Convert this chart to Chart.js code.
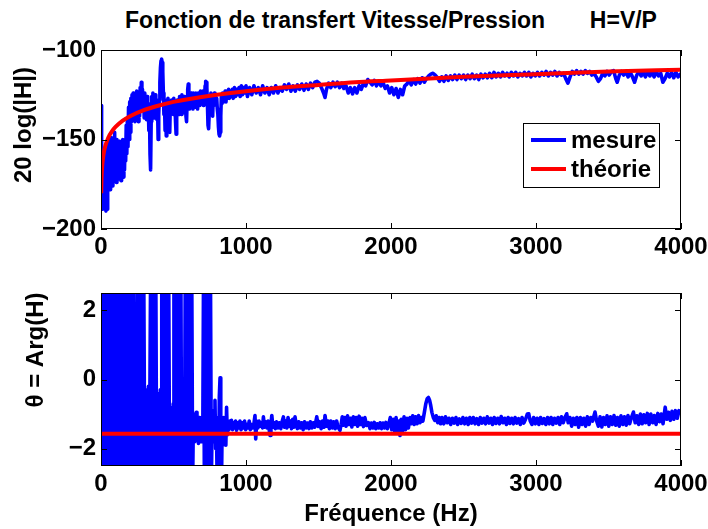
<!DOCTYPE html>
<html>
<head>
<meta charset="utf-8">
<script src="https://cdn.jsdelivr.net/npm/chart.js@4.4.1/dist/chart.umd.min.js"></script>
<style>
  body { margin: 0; background: #fff; }
  #wrap { position: relative; width: 708px; height: 529px; background: #fff; overflow: hidden; }
  #title { position: absolute; left: 0; width: 782px; top: 9px; text-align: center; white-space: pre;
           font: bold 23px "Liberation Sans", Arial, sans-serif; line-height: 23px; color: #000; }
  canvas { position: absolute; left: 0; }
</style>
</head>
<body>
<div id="wrap">
  <div id="title">Fonction de transfert Vitesse/Pression       H=V/P</div>
  <canvas id="c1" width="708" height="260" style="top:0"></canvas>
  <canvas id="c2" width="708" height="269" style="top:260px"></canvas>
</div>
<script>
// Fonction de transfert H=V/P : module (dB) et phase (rad) — mesure vs théorie

const xTicks = [0, 1000, 2000, 3000, 4000];
const magTicks = [-200, -150, -100];
const phTicks = [-2, 0, 2];

// module mesuré [Hz, dB]
const magMeasure = [
  [0,-176],[2,-131],[4,-170],[6,-186],[9,-158],[12,-189],[15,-162],[18,-188],[22,-156],[26,-184],
  [30,-160],[34,-190],[38,-158],[42,-189],[46,-155],[50,-176],[54,-150],[58,-174],[62,-152],[66,-178],
  [70,-149],[74,-172],[78,-154],[82,-176],[86,-150],[90,-170],[94,-146],[98,-168],[102,-152],[106,-174],
  [110,-150],[114,-170],[118,-155],[122,-172],[126,-151],[130,-168],[134,-156],[138,-173],[142,-153],[146,-169],
  [150,-150],[154,-171],[158,-155],[162,-167],[166,-150],[170,-162],[174,-142],[178,-158],[182,-138],[186,-154],
  [190,-132],[194,-150],[198,-129],[202,-146],[206,-127],[210,-140],[214,-125],[218,-138],[222,-124],[226,-136],
  [230,-128],[234,-140],[238,-126],[242,-135],[246,-123],[250,-134],[254,-127],[258,-140],[262,-124],[266,-137],
  [270,-121],[274,-133],[278,-118],[282,-128],[286,-122],[290,-134],[294,-125],[298,-138],[302,-124],[306,-133],
  [310,-127],[314,-139],[318,-126],[322,-136],[326,-130],[330,-145],[334,-132],[338,-158],[342,-167],[346,-140],
  [350,-126],[354,-137],[358,-124],[362,-135],[366,-127],[370,-138],[374,-125],[378,-134],[382,-128],[386,-139],
  [390,-131],[394,-150],[398,-136],[402,-128],[406,-118],[410,-110],[414,-106],[418,-105],[422,-107],[426,-112],
  [430,-124],[434,-136],[438,-130],[442,-145],[446,-134],[450,-148],[454,-128],[458,-135],[462,-127],[466,-133],
  [470,-129],[474,-146],[478,-130],[482,-135],[486,-128],[490,-134],[494,-129],[498,-136],[502,-127],[506,-133],
  [510,-130],[514,-140],[518,-147],[522,-131],[526,-128],[530,-135],[534,-128],[538,-136],[542,-126],[546,-133],
  [550,-128],[554,-136],[558,-125],[562,-132],[566,-127],[570,-135],[574,-126],[578,-134],[582,-128],[586,-137],
  [590,-140],[594,-128],[598,-122],[602,-119],[606,-127],[610,-133],[614,-125],[618,-131],[622,-124],[626,-132],
  [630,-126],[634,-133],[638,-124],[642,-131],[646,-125],[650,-132],[654,-124],[658,-130],[662,-126],[666,-133],
  [670,-124],[674,-130],[678,-125],[682,-131],[686,-123],[690,-129],[694,-125],[698,-130],[702,-123],[706,-131],
  [710,-124],[714,-128],[718,-120],[722,-117.5],[726,-118],[730,-121],[734,-130],[738,-142],[742,-144],[746,-136],
  [750,-127],[754,-131],[758,-124],[762,-132],[766,-125],[770,-137],[774,-126],[778,-131],[782,-124],[786,-130],
  [790,-125],[794,-129],[798,-127],[802,-133],[806,-136],[810,-143],[814,-147],[818,-148],[822,-146],[826,-137],
  [830,-126],[834,-130],[838,-124],[842,-129],[846,-124],[850,-128],[856,-123],[862,-129],[868,-124],[874,-127],
  [880,-122],[886,-127],[892,-123],[898,-126],[905,-122],[912,-127],[920,-121],[928,-126],[936,-122],[944,-125],
  [952,-121],[960,-126],[968,-120],[976,-125],[984,-121],[992,-124],[1000,-120],[1010,-126],[1025,-121],[1040,-125],
  [1055,-120],[1070,-124],[1085,-121],[1100,-125],[1115,-120],[1130,-124],[1145,-121],[1160,-125],[1175,-121],[1190,-124],
  [1205,-120],[1220,-124],[1235,-121],[1250,-123],[1265,-119.5],[1280,-122],[1295,-119],[1310,-123],[1325,-120],[1340,-123],
  [1355,-119.5],[1370,-122],[1385,-119],[1400,-122.5],[1415,-119],[1430,-122],[1445,-118.5],[1460,-121],[1475,-118],[1490,-117.5],
  [1505,-118.5],[1520,-121],[1535,-124],[1545,-126.5],[1555,-122],[1570,-118.5],[1585,-121],[1600,-118],[1615,-120.5],[1630,-118],
  [1645,-121],[1660,-118.5],[1675,-121.5],[1690,-120],[1705,-124],[1720,-121],[1735,-124.5],[1750,-121],[1765,-124],[1780,-120],
  [1795,-122],[1810,-118.5],[1825,-120],[1840,-116.5],[1855,-118],[1870,-119.5],[1885,-117],[1900,-120],[1915,-117.5],[1930,-120],
  [1945,-118],[1960,-121.5],[1975,-120],[1990,-124],[2005,-121],[2020,-125],[2035,-121.5],[2050,-126.5],[2065,-122],[2080,-125],
  [2095,-120],[2110,-119],[2125,-117],[2140,-119.5],[2155,-116.5],[2170,-119],[2185,-116],[2200,-118.5],[2215,-115.5],[2230,-118],
  [2245,-116],[2260,-114.5],[2275,-113.5],[2290,-113],[2305,-114],[2320,-115.5],[2335,-117.5],[2350,-115],[2365,-117.5],[2380,-114.5],
  [2395,-117],[2410,-114.5],[2425,-116.5],[2440,-114],[2455,-116.5],[2470,-114],[2485,-116],[2500,-114],[2515,-116.5],[2530,-114],
  [2545,-116],[2560,-113.5],[2575,-116],[2590,-114],[2605,-116.5],[2620,-113.5],[2635,-115.5],[2650,-113.5],[2665,-115.5],[2680,-113],
  [2695,-115.5],[2710,-112.5],[2725,-115],[2740,-113],[2755,-115],[2770,-112.5],[2785,-114.5],[2800,-113],[2815,-115],[2830,-112.5],
  [2845,-114.5],[2860,-112.5],[2875,-115],[2890,-113],[2905,-114.5],[2920,-112.5],[2935,-114.5],[2950,-112.5],[2965,-115],[2980,-113],
  [2995,-114.5],[3010,-112.5],[3025,-114.5],[3040,-112.5],[3055,-114],[3070,-112],[3085,-114.5],[3100,-112.5],[3115,-114],[3130,-112],
  [3145,-114.5],[3160,-112.5],[3175,-114],[3190,-113],[3205,-116],[3220,-118.5],[3235,-115],[3250,-112],[3265,-113.5],[3280,-111.5],
  [3295,-113.5],[3310,-112],[3325,-113.5],[3340,-111.5],[3355,-113],[3370,-112],[3385,-114],[3400,-113],[3415,-115],[3430,-117.5],
  [3445,-116],[3460,-113],[3475,-114.5],[3490,-112],[3505,-114],[3520,-112],[3535,-111.5],[3550,-116],[3560,-118],[3575,-114],
  [3590,-112],[3605,-114],[3620,-112],[3635,-115],[3650,-112.5],[3665,-115],[3680,-118],[3695,-114],[3710,-112],[3725,-114.5],
  [3740,-112.5],[3755,-115],[3770,-112],[3785,-114.5],[3800,-112.5],[3815,-115],[3830,-112],[3845,-114.5],[3860,-113],[3875,-118],
  [3890,-116],[3905,-113],[3920,-115],[3935,-112.5],[3950,-115.5],[3965,-112.5],[3980,-115],[4000,-113]
];

// module théorique [Hz, dB]
const magTheory = [
  [1.5,-180],[3,-174],[5,-169],[8,-165],[12,-161.5],[20,-157],[30,-153.5],[50,-149],[75,-145.5],[100,-143],
  [150,-139.5],[200,-137],[300,-133.5],[400,-131],[500,-129],[600,-127.5],[800,-125],[1000,-123],[1250,-121],[1500,-119.5],
  [1750,-118],[2000,-117],[2500,-115],[3000,-113.5],[3500,-112],[4000,-111]
];

// phase mesurée [Hz, rad]
const phMeasure = [
  [0,3],[7,-3],[14,3],[21,-3],[28,3],[35,-3],[42,3],[49,-3],[56,3],[63,-3],[70,3],[77,-3],[84,3],[91,-3],[98,3],
  [105,-3],[112,3],[119,-3],[126,3],[133,-3],[140,3],[147,-3],[154,3],[161,-3],[168,3],[175,-3],[182,3],[189,-3],[196,3],
  [203,-3],[210,3],[217,-3],[224,3],[231,-3],[236,-0.4],[241,-3],[246,-0.3],[251,3],[256,-3],[261,-0.5],[266,-3],[271,3],
  [276,-3],[281,3],[288,-3],[295,3],[302,-3],[307,-0.3],[312,-3],[317,-0.4],[322,-3],[327,-0.2],[332,-3],[337,-0.5],[342,3],
  [348,-3],[354,3],[360,-3],[366,3],[372,-3],[378,3],[384,-3],[389,-0.4],[394,-3],[399,-0.6],[404,-3],[409,-0.3],[414,-3],
  [419,3],[425,-3],[431,3],[437,-3],[443,3],[449,-3],[455,3],[461,-3],[467,3],[473,-3],[478,-0.8],[483,-3],[488,-0.9],
  [493,-3],[498,-0.7],[503,3],[509,-3],[515,3],[521,-3],[527,3],[533,-3],[539,3],[545,-3],[551,3],[556,-3],[561,-0.8],
  [566,-3],[571,-1.0],[576,-2.6],[581,3],[587,-3],[593,3],[599,-3],[604,-0.8],[609,-3],[614,3],[620,-3],[626,3],[632,-3],
  [637,-1.2],[642,-1.8],[647,-1.0],[652,-1.7],[657,-0.95],[662,-1.6],[667,-1.2],[672,-1.85],[677,-1.1],[682,-1.7],[687,-1.3],
  [692,-1.8],[697,-1.1],[702,-1.6],[707,3],[713,-3],[719,3],[725,-3],[731,3],[737,-3],[743,3],[749,-3],[755,3],[761,-3],
  [766,-1.4],[771,-0.9],[776,-1.8],[781,-1.0],[786,-0.6],[791,-2.0],[796,-1.2],[801,-3],[806,-1.1],[811,-3],[816,-0.5],
  [821,0.05],[826,-1.5],[831,-3],[836,-1.2],[841,-1.9],[846,-1.1],[851,-1.7],[856,-1.3],[861,-1.9],[866,-0.8],[871,-1.6],
  [876,-1.3],[882,-1.45],[888,-1.2],[894,-1.4],[900,-1.18],[907,-1.45],[914,-1.25],[921,-1.4],[928,-1.2],[935,-1.47],
  [942,-1.25],[950,-1.4],[958,-1.2],[966,-1.45],[974,-1.25],[982,-1.4],[990,-1.2],[998,-1.45],[1006,-1.3],[1014,-1.4],
  [1022,-1.2],[1030,-1.45],[1038,-1.3],[1046,-1.4],[1054,-1.3],[1062,-1.04],[1067,-1.72],[1074,-1.2],[1082,-1.4],[1090,-1.2],
  [1098,-1.35],[1106,-1.25],[1114,-1.4],[1120,-1.08],[1128,-1.38],[1136,-1.22],[1144,-1.4],[1152,-1.2],[1160,-1.45],[1166,-1.62],
  [1172,-1.3],[1178,-1.04],[1186,-1.38],[1194,-1.25],[1202,-1.42],[1210,-1.22],[1220,-1.4],[1230,-1.25],[1240,-1.42],[1250,-1.2],
  [1258,-1.08],[1266,-1.38],[1274,-1.2],[1282,-1.4],[1290,-1.1],[1298,-1.35],[1306,-1.2],[1314,-1.42],[1322,-1.15],[1330,-1.38],
  [1338,-1.08],[1346,-1.3],[1354,-1.42],[1364,-1.22],[1374,-1.4],[1384,-1.25],[1394,-1.45],[1404,-1.22],[1414,-1.4],[1424,-1.26],
  [1434,-1.42],[1444,-1.22],[1454,-1.4],[1464,-1.25],[1474,-1.38],[1488,-1.08],[1498,-1.36],[1508,-1.22],[1518,-1.42],[1528,-1.2],
  [1538,-1.38],[1545,-1.04],[1555,-1.35],[1565,-1.2],[1575,-1.42],[1585,-1.2],[1595,-1.4],[1605,-1.22],[1615,-1.42],[1625,-1.2],
  [1635,-1.38],[1648,-1.47],[1656,-1.3],[1664,-1.08],[1672,-1.32],[1680,-1.1],[1690,-1.35],[1700,-1.05],[1710,-1.3],[1720,-1.12],
  [1730,-1.37],[1740,-1.08],[1750,-1.3],[1760,-1.1],[1770,-1.35],[1780,-1.06],[1790,-1.3],[1800,-1.12],[1810,-1.36],[1820,-1.1],
  [1832,-1.33],[1845,-1.25],[1855,-1.42],[1865,-1.26],[1875,-1.4],[1885,-1.24],[1895,-1.42],[1905,-1.28],[1915,-1.4],[1925,-1.25],
  [1935,-1.42],[1945,-1.26],[1955,-1.4],[1965,-1.24],[1975,-1.42],[1985,-1.28],[1995,-1.1],[2005,-1.45],[2015,-1.15],[2025,-1.5],
  [2035,-1.1],[2045,-1.55],[2055,-1.2],[2062,-1.62],[2070,-1.15],[2080,-1.5],[2090,-1.08],[2100,-1.45],[2110,-1.12],[2120,-1.4],
  [2131,-1.1],[2140,-1.28],[2150,-1.05],[2160,-1.3],[2170,-1.08],[2180,-1.28],[2190,-1.04],[2200,-1.25],[2210,-1.1],[2220,-1.2],
  [2230,-0.95],[2240,-0.7],[2250,-0.55],[2258,-0.52],[2266,-0.6],[2274,-0.75],[2282,-0.95],[2292,-1.1],[2302,-1.18],[2312,-1.05],
  [2322,-1.25],[2332,-1.1],[2342,-1.28],[2352,-1.1],[2364,-1.28],[2376,-1.08],[2388,-1.25],[2400,-1.12],[2412,-1.3],[2424,-1.12],
  [2436,-1.26],[2448,-1.1],[2460,-1.3],[2472,-1.14],[2484,-1.27],[2496,-1.1],[2508,-1.28],[2520,-1.12],[2532,-1.3],[2544,-1.1],
  [2556,-1.26],[2568,-1.1],[2580,-1.28],[2592,-1.13],[2604,-1.3],[2616,-1.1],[2628,-1.26],[2640,-1.12],[2652,-1.28],[2664,-1.08],
  [2676,-1.26],[2688,-1.12],[2700,-1.3],[2712,-1.1],[2724,-1.27],[2736,-1.12],[2748,-1.28],[2760,-1.07],[2772,-1.25],[2784,-1.12],
  [2796,-1.3],[2808,-1.1],[2820,-1.27],[2832,-1.12],[2844,-1.28],[2856,-1.1],[2868,-1.26],[2880,-1.13],[2892,-1.3],[2904,-1.1],
  [2916,-1.26],[2928,-1.15],[2940,-1.0],[2950,-0.99],[2960,-1.2],[2972,-1.3],[2984,-1.1],[2996,-1.28],[3008,-1.12],[3020,-1.3],
  [3032,-1.1],[3044,-1.27],[3056,-1.13],[3068,-1.3],[3080,-1.1],[3092,-1.28],[3104,-1.1],[3116,-1.3],[3128,-1.12],[3140,-1.26],
  [3152,-1.1],[3164,-1.3],[3176,-1.08],[3188,-1.25],[3200,-1.1],[3212,-0.99],[3222,-1.25],[3234,-1.1],[3246,-1.35],[3258,-1.12],
  [3270,-1.3],[3282,-1.1],[3294,-1.38],[3306,-1.1],[3318,-1.3],[3330,-1.12],[3342,-1.35],[3354,-1.08],[3366,-1.3],[3378,-1.1],
  [3390,-1.2],[3407,-0.94],[3418,-1.2],[3430,-1.35],[3442,-1.08],[3454,-1.37],[3466,-1.1],[3478,-1.3],[3490,-1.05],[3502,-1.35],
  [3514,-1.08],[3526,-1.3],[3538,-1.04],[3550,-1.32],[3562,-1.1],[3574,-1.35],[3586,-1.05],[3598,-1.3],[3610,-1.08],[3622,-1.32],
  [3634,-1.04],[3646,-1.28],[3658,-1.1],[3672,-0.94],[3684,-1.25],[3696,-1.05],[3708,-1.3],[3720,-1.0],[3732,-1.28],[3744,-1.02],
  [3756,-1.25],[3768,-0.98],[3780,-1.3],[3792,-1.0],[3804,-1.25],[3816,-1.04],[3828,-1.3],[3840,-0.98],[3852,-1.22],[3864,-1.0],
  [3876,-1.28],[3891,-0.8],[3902,-1.15],[3914,-0.95],[3926,-1.18],[3938,-0.92],[3950,-1.15],[3962,-0.9],[3974,-1.12],[3986,-0.9],
  [4000,-1.0]
];

// phase théorique [Hz, rad]
const phTheory = [[0,-1.571],[4000,-1.571]];

const FONT = '"Liberation Sans", Arial, sans-serif';
const FS = 24;
Chart.defaults.font.family = FONT;
Chart.defaults.font.size = FS;
Chart.defaults.font.weight = 'bold';
Chart.defaults.color = '#000';

const toXY = arr => arr.map(p => ({ x: p[0], y: p[1] }));
const minus = v => String(v).replace('-', '\u2212');

// cadre, graduations intérieures, titre d'axe y et légende
const boxPlugin = {
    id: 'box',
    afterDatasetsDraw(chart, args, o) {
        const { ctx, chartArea: a, scales: { x, y } } = chart;
        ctx.save();
        ctx.strokeStyle = '#000';
        ctx.lineWidth = 1;
        ctx.strokeRect(a.left + 0.5, a.top + 0.5, a.width - 1, a.height - 1);
        ctx.beginPath();
        for (const v of xTicks) {
            const px = Math.round(x.getPixelForValue(v)) + 0.5;
            ctx.moveTo(px, a.bottom); ctx.lineTo(px, a.bottom - 6);
            ctx.moveTo(px, a.top); ctx.lineTo(px, a.top + 6);
        }
        for (const v of o.yTicks) {
            const py = Math.round(y.getPixelForValue(v)) + 0.5;
            ctx.moveTo(a.left, py); ctx.lineTo(a.left + 6, py);
            ctx.moveTo(a.right, py); ctx.lineTo(a.right - 6, py);
        }
        ctx.stroke();

        ctx.fillStyle = '#000';
        ctx.font = 'bold ' + FS + 'px ' + FONT;
        ctx.translate(o.titleX, o.titleY);
        ctx.rotate(-Math.PI / 2);
        ctx.textAlign = 'center';
        ctx.textBaseline = 'middle';
        ctx.fillText(o.yTitle, 0, 0);
        ctx.restore();

        if (o.legend) {
            const L = o.legend;
            ctx.save();
            ctx.fillStyle = '#fff';
            ctx.fillRect(L.x, L.y, L.w, L.h);
            ctx.strokeStyle = '#000';
            ctx.lineWidth = 1;
            ctx.strokeRect(L.x + 0.5, L.y + 0.5, L.w, L.h);
            chart.data.datasets.forEach((ds, i) => {
                const yy = L.y + 17 + i * 29;
                ctx.strokeStyle = ds.borderColor;
                ctx.lineWidth = 4;
                ctx.beginPath();
                ctx.moveTo(L.x + 8, yy); ctx.lineTo(L.x + 43, yy);
                ctx.stroke();
                ctx.fillStyle = '#000';
                ctx.font = 'bold ' + FS + 'px ' + FONT;
                ctx.textBaseline = 'middle';
                ctx.fillText(ds.label, L.x + 48, yy + 1);
            });
            ctx.restore();
        }
    }
};

function makeChart(id, cfg) {
    return new Chart(document.getElementById(id), {
        type: 'line',
        data: {
            datasets: [
                { label: 'mesure', data: toXY(cfg.meas), borderColor: '#0000ff', borderWidth: 3.6,
                  pointRadius: 0, tension: 0, borderJoinStyle: 'round', order: 1 },
                { label: 'théorie', data: toXY(cfg.theo), borderColor: '#ff0000', borderWidth: 4,
                  pointRadius: 0, cubicInterpolationMode: 'monotone', order: 0 }
            ]
        },
        options: {
            responsive: false,
            animation: false,
            events: [],
            layout: { padding: { top: cfg.top, right: 27, left: 0, bottom: 0 } },
            plugins: {
                legend: { display: false },
                tooltip: { enabled: false },
                box: { yTicks: cfg.yTicks, yTitle: cfg.yTitle, titleX: cfg.titleX, titleY: cfg.titleY, legend: cfg.legend }
            },
            scales: {
                x: {
                    type: 'linear', min: 0, max: 4000,
                    grid: { display: false, drawTicks: false },
                    border: { display: false },
                    ticks: { padding: 4, maxRotation: 0, callback: v => String(v) },
                    title: cfg.xTitle ? { display: true, text: cfg.xTitle, padding: 0 } : { display: false },
                    afterBuildTicks: s => { s.ticks = xTicks.map(v => ({ value: v })); },
                    afterFit: s => { s.height = cfg.xH; s.paddingLeft = 0; s.paddingRight = 0; }
                },
                y: {
                    min: cfg.yMin, max: cfg.yMax,
                    grid: { display: false, drawTicks: false },
                    border: { display: false },
                    ticks: { padding: 5, callback: v => minus(v) },
                    afterBuildTicks: s => { s.ticks = cfg.yTicks.map(v => ({ value: v })); },
                    afterFit: s => { s.width = 101; }
                }
            }
        },
        plugins: [boxPlugin]
    });
}

makeChart('c1', {
    meas: magMeasure, theo: magTheory, yMin: -200, yMax: -100, yTicks: magTicks,
    top: 50, xH: 31, yTitle: '20 log(|H|)', titleX: 24, titleY: 125,
    legend: { x: 523, y: 123, w: 136, h: 64 }
});

makeChart('c2', {
    meas: phMeasure, theo: phTheory, yMin: -2.5, yMax: 2.5, yTicks: phTicks,
    top: 33, xH: 63, yTitle: 'θ = Arg(H)', titleX: 36, titleY: 90,
    xTitle: 'Fréquence (Hz)'
});
</script>
</body>
</html>
